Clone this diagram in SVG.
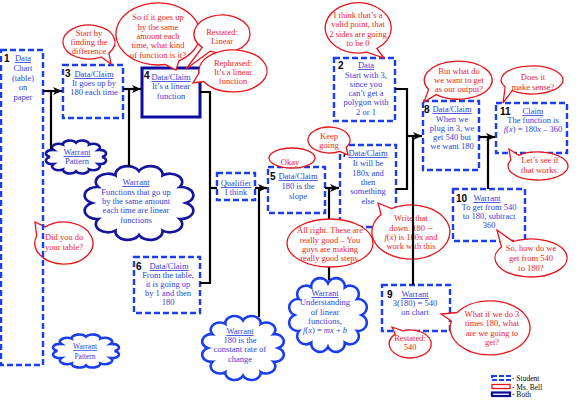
<svg xmlns="http://www.w3.org/2000/svg" xmlns:xlink="http://www.w3.org/1999/xlink" width="578" height="400" viewBox="0 0 578 400">
<style>
.s{fill:#fff;stroke:#1b3df0;stroke-width:2.4;stroke-dasharray:6 3}
.b{fill:#fff;stroke:#0c0c9e;stroke-width:3}
.m{fill:#fff;stroke:#e8141c;stroke-width:1.3}
.t{font-family:"Liberation Serif",serif;font-size:8.5px;fill:#3043d8;text-anchor:middle}
.h{text-decoration:underline}
.r{font-family:"Liberation Serif",serif;font-size:8.5px;fill:#ee2525;text-anchor:middle}
.n{font-family:"Liberation Sans",Arial,sans-serif;font-size:10px;font-weight:bold;fill:#000}
.c{fill:none;stroke:#000;stroke-width:2.2}
.cn{fill:#fff;stroke:#14149c;stroke-width:2.6}
.cb{fill:#fff;stroke:#1b3df0;stroke-width:2.6}
.lg{font-family:"Liberation Serif",serif;font-size:7.5px;fill:#000}
</style>
<defs>
<path id="cloud" vector-effect="non-scaling-stroke" d="M42,0 A11,11 0 0 1 36.4,21 A11,11 0 0 1 21,36.4 A11,11 0 0 1 0,42 A11,11 0 0 1 -21,36.4 A11,11 0 0 1 -36.4,21 A11,11 0 0 1 -42,0 A11,11 0 0 1 -36.4,-21 A11,11 0 0 1 -21,-36.4 A11,11 0 0 1 0,-42 A11,11 0 0 1 21,-36.4 A11,11 0 0 1 36.4,-21 A11,11 0 0 1 42,0 Z"/>
<marker id="arr" markerWidth="10" markerHeight="10" refX="9" refY="5" orient="auto" markerUnits="userSpaceOnUse"><path d="M0,1 L9,5 L0,9 L2.5,5 Z" fill="#000"/></marker>
</defs>

<g id="bubble-table">
<path class="m" d="M36.7,235.8 L35,222 L45.4,226.9 A29,21 0 1 1 36.7,235.8 Z"/>
<text class="r" style="text-anchor:start"><tspan x="45" y="240">Did you do</tspan><tspan x="45" y="250">your table?</tspan></text>
</g>

<g id="node1">
<rect x="1" y="50" width="42" height="315" style="fill:none;stroke:#1b3df0;stroke-width:2.4;stroke-dasharray:6 3"/>
<text class="n" x="4" y="62">1</text>
<text class="t"><tspan class="h" x="23" y="61">Data</tspan><tspan x="23" y="71">Chart</tspan><tspan x="23" y="81">(table)</tspan><tspan x="23" y="90">on</tspan><tspan x="23" y="100">paper</tspan></text>
</g>

<g id="node3">
<rect class="s" x="63" y="65" width="60" height="53"/>
<text class="n" x="65" y="77">3</text>
<text class="t"><tspan class="h" x="94" y="77">Data/Claim</tspan><tspan x="94" y="86">It goes up by</tspan><tspan x="94" y="95">180 each time</tspan></text>
</g>

<g id="node4">
<rect class="b" x="142" y="68" width="58" height="49"/>
<text class="n" x="144" y="79">4</text>
<text class="t"><tspan class="h" x="171" y="80">Data/Claim</tspan><tspan x="171" y="89">It’s a linear</tspan><tspan x="171" y="99">function</tspan></text>
</g>

<g id="node2">
<rect class="s" x="334" y="58" width="61" height="63"/>
<text class="n" x="338" y="69">2</text>
<text class="t"><tspan class="h" x="366" y="68">Data</tspan><tspan x="366" y="78">Start with 3,</tspan><tspan x="366" y="87">since you</tspan><tspan x="366" y="96">can’t get a</tspan><tspan x="366" y="105">polygon with</tspan><tspan x="366" y="115">2 or 1</tspan></text>
</g>

<g id="node8">
<rect class="s" x="423" y="101" width="56" height="69"/>
<text class="n" x="424" y="113">8</text>
<text class="t"><tspan class="h" x="452" y="112">Data/Claim</tspan><tspan x="452" y="122">When we</tspan><tspan x="452" y="131">plug in 3, we</tspan><tspan x="452" y="140">get 540 but</tspan><tspan x="452" y="149">we want 180</tspan></text>
</g>

<g id="node11">
<rect class="s" x="496" y="103" width="71" height="50"/>
<text class="n" x="500" y="115">11</text>
<text class="t"><tspan class="h" x="533" y="114">Claim</tspan><tspan x="533" y="123">The function is</tspan><tspan x="533" y="132"><tspan font-style="italic">f</tspan>(<tspan font-style="italic">x</tspan>) = 180<tspan font-style="italic">x</tspan> – 360</tspan></text>
</g>

<g id="node10">
<rect class="s" x="453" y="189" width="72" height="52"/>
<text class="n" x="456" y="202">10</text>
<text class="t"><tspan class="h" x="487" y="201">Warrant</tspan><tspan x="489" y="210">To get from 540</tspan><tspan x="489" y="219">to 180, subtract</tspan><tspan x="489" y="228">360</tspan></text>
</g>

<g id="node9">
<rect class="s" x="382" y="285" width="68" height="46"/>
<text class="n" x="387" y="298">9</text>
<text class="t"><tspan class="h" x="415" y="297">Warrant</tspan><tspan x="415" y="306">3(180) = 540</tspan><tspan x="415" y="315">on chart</tspan></text>
</g>

<g id="node5">
<rect class="s" x="268" y="167" width="57" height="46"/>
<text class="n" x="270" y="180">5</text>
<text class="t"><tspan class="h" x="298" y="179">Data/Claim</tspan><tspan x="298" y="189">180 is the</tspan><tspan x="298" y="199">slope</tspan></text>
</g>

<g id="node7">
<rect class="s" x="340" y="145" width="56" height="82"/>
<text class="n" x="342" y="157">7</text>
<text class="t"><tspan class="h" x="368" y="156">Data/Claim</tspan><tspan x="368" y="166">It will be</tspan><tspan x="368" y="176">180x and</tspan><tspan x="368" y="185">then</tspan><tspan x="368" y="194">something</tspan><tspan x="368" y="204">else</tspan></text>
</g>

<g id="node6">
<rect class="s" x="134" y="257" width="66" height="56"/>
<text class="n" x="136" y="270">6</text>
<text class="t"><tspan class="h" x="169" y="269">Data/Claim</tspan><tspan x="168" y="278">From the table,</tspan><tspan x="168" y="287">it is going up</tspan><tspan x="168" y="296">by 1 and then</tspan><tspan x="168" y="305">180</tspan></text>
</g>

<g id="qualifier">
<rect class="s" x="217" y="173" width="38" height="27"/>
<text class="t"><tspan class="h" x="236" y="186">Qualifier</tspan><tspan x="236" y="195">I think</tspan></text>
</g>

<g id="warrant-pattern-top">
<use xlink:href="#cloud" class="cn" transform="translate(76,157) scale(0.62,0.34)"/>
<text class="t"><tspan class="h" x="77" y="155">Warrant</tspan><tspan x="77" y="164">Pattern</tspan></text>
</g>

<g id="warrant-functions">
<use xlink:href="#cloud" class="cn" transform="translate(139,203) scale(1.12,0.76)"/>
<text class="t"><tspan class="h" x="136" y="185">Warrant</tspan><tspan x="136" y="195">Functions that go up</tspan><tspan x="136" y="204">by the same amount</tspan><tspan x="136" y="213">each time are linear</tspan><tspan x="136" y="223">functions</tspan></text>
</g>

<g id="warrant-pattern-bottom">
<use xlink:href="#cloud" class="cb" transform="translate(86,351) scale(0.68,0.34)"/>
<text class="t" style="font-size:7.5px"><tspan class="h" x="85" y="349">Warrant</tspan><tspan x="85" y="359">Pattern</tspan></text>
</g>

<g id="warrant-rate">
<use xlink:href="#cloud" class="cb" transform="translate(243,348) scale(0.84,0.66)"/>
<text class="t"><tspan class="h" x="240" y="334">Warrant</tspan><tspan x="240" y="343">180 is the</tspan><tspan x="240" y="352">constant rate of</tspan><tspan x="240" y="362">change</tspan></text>
</g>

<g id="warrant-understanding">
<use xlink:href="#cloud" class="cb" transform="translate(328,315) scale(0.80,0.76)"/>
<text class="t"><tspan class="h" x="325" y="296">Warrant</tspan><tspan x="325" y="305">Understanding</tspan><tspan x="325" y="315">of linear</tspan><tspan x="325" y="324">functions,</tspan><tspan x="325" y="333"><tspan font-style="italic">f</tspan>(<tspan font-style="italic">x</tspan>) = <tspan font-style="italic">mx</tspan> + <tspan font-style="italic">b</tspan></tspan></text>
</g>

<g id="bubble-write">
<path class="m" d="M381.1,214.6 L378,203 L391.5,208.6 A39,27 0 1 1 381.1,214.6 Z"/>
<text class="r"><tspan x="411" y="221">Write that</tspan><tspan x="411" y="231">down. 180  --</tspan><tspan x="411" y="240"><tspan font-style="italic">f</tspan>(<tspan font-style="italic">x</tspan>) is 180x and</tspan><tspan x="411" y="249">work with this</tspan></text>
</g>

<g id="connectors">
<path class="c" d="M43,91 H62" marker-end="url(#arr)"/>
<path class="c" d="M51,91 V149"/>
<path class="c" d="M123,89 H141" marker-end="url(#arr)"/>
<path class="c" d="M129,89 V167"/>
<path class="c" d="M200,92 H210 V283 H200"/>
<path class="c" d="M210,188 H217"/>
<path class="c" d="M255,188 H267" marker-end="url(#arr)"/>
<path class="c" d="M259,188 V317"/>
<path class="c" d="M325,188 H339" marker-end="url(#arr)"/>
<path class="c" d="M329,188 V280"/>
<path class="c" d="M395,89 H407 V189 H396"/>
<path class="c" d="M407,136 H422" marker-end="url(#arr)"/>
<path class="c" d="M413,136 V285"/>
<path class="c" d="M479,137 H495" marker-end="url(#arr)"/>
<path class="c" d="M488,137 V189"/>
</g>

<g id="bubble-start">
<path class="m" d="M108.9,52.9 L111,64 L101.2,57 A26,17 0 1 1 108.9,52.9 Z"/>
<text class="r"><tspan x="89" y="36">Start by</tspan><tspan x="89" y="45">finding the</tspan><tspan x="89" y="54">difference</tspan></text>
</g>

<g id="bubble-soif">
<path class="m" d="M179,60.8 L176,70 L165.3,64.5 A42,31 0 1 1 179,60.8 Z"/>
<text class="r"><tspan x="158" y="20">So if it goes up</tspan><tspan x="158" y="30">by the same</tspan><tspan x="158" y="39">amount each</tspan><tspan x="158" y="48">time, what kind</tspan><tspan x="158" y="58">of function is it?</tspan></text>
</g>

<g id="bubble-restated-linear">
<path class="m" d="M210.2,51.2 L186,69 L202.2,47.4 A28,19 0 1 1 210.2,51.2 Z"/>
<text class="r"><tspan x="222" y="35">Restated:</tspan><tspan x="222" y="44">Linear</tspan></text>
</g>

<g id="bubble-rephrased">
<path class="m" d="M203.6,81.5 L193,83 L199.1,72.8 A34,21 0 1 1 203.6,81.5 Z"/>
<text class="r"><tspan x="233" y="66">Rephrased:</tspan><tspan x="233" y="75">It’s a linear</tspan><tspan x="233" y="84">function</tspan></text>
</g>

<g id="bubble-valid">
<path class="m" d="M376.9,48.5 L384,58 L366.5,52.1 A33,25 0 1 1 376.9,48.5 Z"/>
<text class="r"><tspan x="358" y="18">I think that’s a</tspan><tspan x="358" y="27">valid point, that</tspan><tspan x="358" y="37">2 sides are going</tspan><tspan x="358" y="46">to be 0</tspan></text>
</g>

<g id="bubble-output">
<path class="m" d="M436.1,94.6 L424,102 L428.6,89.5 A34,19 0 1 1 436.1,94.6 Z"/>
<text class="r"><tspan x="459" y="74">But what do</tspan><tspan x="459" y="83">we want to get</tspan><tspan x="459" y="92">as our output?</tspan></text>
</g>

<g id="bubble-sense">
<path class="m" d="M512.1,90.7 L503,103 L505.2,87 A31,14 0 1 1 512.1,90.7 Z"/>
<text class="r"><tspan x="533" y="80">Does it</tspan><tspan x="533" y="90">make sense?</tspan></text>
</g>

<g id="bubble-works">
<path class="m" d="M510.8,160.1 L509,149 L518.7,155.3 A30,14 0 1 1 510.8,160.1 Z"/>
<text class="r"><tspan x="540" y="163">Let’s see if</tspan><tspan x="540" y="173">that works.</tspan></text>
</g>

<g id="bubble-how">
<path class="m" d="M501.5,247.1 L497,230 L513,241.5 A36,19 0 1 1 501.5,247.1 Z"/>
<text class="r"><tspan x="531" y="251">So, how do we</tspan><tspan x="531" y="261">get from 540</tspan><tspan x="531" y="271">to  180?</tspan></text>
</g>

<g id="bubble-times">
<path class="m" d="M451.4,321 L441,314 L457.2,312.5 A40,27 0 1 1 451.4,321 Z"/>
<text class="r"><tspan x="492" y="317">What if we do 3</tspan><tspan x="492" y="326">times 180, what</tspan><tspan x="492" y="336">are we going to</tspan><tspan x="492" y="345">get?</tspan></text>
</g>

<g id="bubble-restated-540">
<path class="m" d="M395.2,334.1 L392,327 L402.8,330.8 A21,14 0 1 1 395.2,334.1 Z"/>
<text class="r"><tspan x="410" y="341">Restated:</tspan><tspan x="410" y="350">540</tspan></text>
</g>

<g id="bubble-okay">
<ellipse class="m" cx="292" cy="158" rx="23" ry="10"/>
<text class="r" x="290" y="165">Okay</text>
</g>

<g id="bubble-keep">
<path class="m" d="M346.2,147.5 L348,155 L339.5,151.3 A21,13 0 1 1 346.2,147.5 Z"/>
<text class="r"><tspan x="329" y="139">Keep</tspan><tspan x="329" y="148">going</tspan></text>
</g>

<g id="bubble-allright">
<ellipse class="m" cx="330" cy="243" rx="43" ry="24"/>
<text class="r"><tspan x="330" y="233">All right. These are</tspan><tspan x="330" y="243">really good – You</tspan><tspan x="330" y="252">guys are making</tspan><tspan x="330" y="261">really good steps.</tspan></text>
</g>

<g id="legend">
<rect x="492" y="376" width="18" height="4" style="fill:#fff;stroke:#1b3df0;stroke-width:2;stroke-dasharray:5 2"/>
<text class="lg" x="512" y="381">- Student</text>
<rect x="492" y="384.5" width="18" height="4" style="fill:#fff;stroke:#e8141c;stroke-width:1.3"/>
<text class="lg" x="512" y="389.5">- Ms. Bell</text>
<rect x="492" y="392.5" width="18" height="3.5" style="fill:#fff;stroke:#0c0c9e;stroke-width:2.2"/>
<text class="lg" x="512" y="397">- Both</text>
</g>
</svg>
